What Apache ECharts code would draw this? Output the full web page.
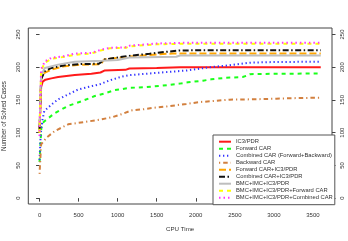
<!DOCTYPE html>
<html>
<head>
<meta charset="utf-8">
<script src="https://cdn.jsdelivr.net/npm/echarts@6/dist/echarts.min.js"></script>
<style>
html,body{margin:0;padding:0;background:#fff;}
#c{width:348px;height:241px;}
</style>
</head>
<body>
<div id="c"></div>
<script>
// Tick labels
const xTicks = [0, 500, 1000, 1500, 2000, 2500, 3000, 3500];
const yTicks = [0, 50, 100, 150, 200, 250];

// Series names
const names = [
  'IC3/PDR',
  'Forward CAR',
  'Combined CAR (Forward+Backward)',
  'Backward CAR',
  'Forward CAR+IC3/PDR',
  'Combined CAR+IC3/PDR',
  'BMC+IMC+IC3/PDR',
  'BMC+IMC+IC3/PDR+Forward CAR',
  'BMC+IMC+IC3/PDR+Combined CAR'
];

// [CPU time, number of solved cases]
const ic3pdr = [[0,108],[20,170],[40,178],[76,181],[150,183],[238,185],[451,188],[664,190],[780,192],[830,195],[1100,196],[1150,198],[1500,199],[1800,200],[3600,200]];
const forwardCar = [[0,55],[25,113],[68,118],[196,130],[366,141],[537,148],[707,156],[834,160],[962,165],[1154,168.5],[1368,169.7],[1580,172],[1793,175],[1900,177],[2091,179.5],[2199,181.5],[2390,184],[2600,185],[2650,187],[2690,189.5],[3000,190],[3600,190.5]];
const combinedCar = [[0,58],[15,98],[35,118],[60,133],[153,143],[238,151],[366,158.5],[493,166],[664,171],[771,174],[899,180],[1048,185.5],[1154,188],[1409,190.5],[1665,193],[1879,195],[2179,200],[2432,203],[2688,207],[3000,208],[3600,208.5]];
const backwardCar = [[0,37],[20,82],[89,92.5],[196,102.6],[366,112.8],[579,116.3],[792,120.4],[941,124],[1069,129],[1176,134],[1324,135.7],[1452,138],[1623,140],[1751,142],[1879,144],[2049,146.8],[2219,148.3],[2432,150.5],[2731,151],[3030,152],[3327,153],[3600,153.5]];
const forwardIc3 = [[0,100],[20,180],[40,190],[153,196.6],[323,201.7],[537,204],[780,204.5],[830,212],[1197,217],[1623,220.6],[1700,221],[3600,221]];
const combinedIc3 = [[0,105],[20,182],[68,194],[153,199],[323,203],[537,205],[760,205.3],[834,212],[1112,217],[1409,220.6],[1623,223.6],[1793,225.6],[2049,226],[3600,226]];
const bmcImcIc3 = [[0,110],[20,188],[68,199],[238,204],[451,208.4],[800,210],[1000,211],[1150,215],[1750,216],[1800,218],[3600,218]];
const bmcForward = [[0,100],[20,195],[68,207],[153,213],[323,216],[451,219],[664,221],[792,226],[899,229],[1112,230],[1154,232],[1495,235],[1836,236],[3600,236]];
const bmcCombined = [[0,95],[20,197],[68,209],[153,214.5],[323,217],[451,221],[664,222],[792,227],[899,229.7],[1112,230.6],[1154,233],[1495,236.3],[1836,237.3],[3600,237.3]];

const allData = [ic3pdr, forwardCar, combinedCar, backwardCar, forwardIc3, combinedIc3, bmcImcIc3, bmcForward, bmcCombined];
const colors = ['#ff1a1a','#1aff1a','#3333ff','#d2803f','#ffa500','#111111','#bebebe','#ffff00','#ff33ff'];
const dashes = ['solid',[4,4],[1.3,2.7],[1.2,3,4.5,3],[7,3],[6,2.5,1.5,2.5],'solid',[4,4],[1.5,3]];
const widths = [2,2,2,2,2,2,2,2,2];

const font = 'Liberation Sans, Arial, Helvetica, sans-serif';
const textColor = '#333';

const chart = echarts.init(document.getElementById('c'), null, {renderer:'canvas'});

const yAxisCommon = {
  type:'value', min:-9, max:260,
  splitLine:{show:false},
  axisLine:{show:false},
  axisTick:{show:true, length:3.5, lineStyle:{color:'#444', width:1}, customValues: yTicks},
  axisLabel:{rotate:90, fontSize:6, color:textColor, fontFamily:font, margin:7, customValues: yTicks,
    formatter:(v)=>String(v)}
};

chart.setOption({
  animation:false,
  backgroundColor:'#fff',
  grid:{left:28.3, right:16, top:28, bottom:37, show:true, borderColor:'#444', borderWidth:1,
    backgroundColor:'transparent', containLabel:false, outerBoundsMode:'none'},
  xAxis:{
    type:'value', min:-144, max:3744,
    name:'CPU Time', nameLocation:'middle', nameGap:22.5,
    nameTextStyle:{fontSize:6.2, color:textColor, fontFamily:font},
    splitLine:{show:false},
    axisLine:{show:false},
    axisTick:{show:true, length:3.5, lineStyle:{color:'#444', width:1}, customValues: xTicks},
    axisLabel:{fontSize:6, color:textColor, fontFamily:font, margin:8, customValues: xTicks,
      formatter:(v)=>String(v)}
  },
  yAxis:[
    Object.assign({}, yAxisCommon, {
      position:'left',
      name:'Number of Solved Cases', nameLocation:'middle', nameGap:21, nameRotate:90,
      nameTextStyle:{fontSize:6.3, color:textColor, fontFamily:font}
    }),
    Object.assign({}, yAxisCommon, {position:'right'})
  ],
  legend:{
    orient:'vertical', left:213, top:135,
    padding:[3.2, 2, 3.5, 5],
    itemWidth:12, itemHeight:7, itemGap:0,
    backgroundColor:'#fff', borderColor:'#555', borderWidth:1, borderRadius:0,
    itemStyle:{opacity:0},
    textStyle:{fontSize:5.8, lineHeight:7, height:7, color:textColor, fontFamily:font},
    data:names
  },
  series: allData.map((d,i)=>({
    name:names[i], type:'line', data:d, yAxisIndex:0,
    symbol:'none', showSymbol:false,
    lineStyle:{color:colors[i], width:widths[i], type:dashes[i], cap:'butt'},
    itemStyle:{color:colors[i]},
    z:2+i
  }))
});
</script>
</body>
</html>
